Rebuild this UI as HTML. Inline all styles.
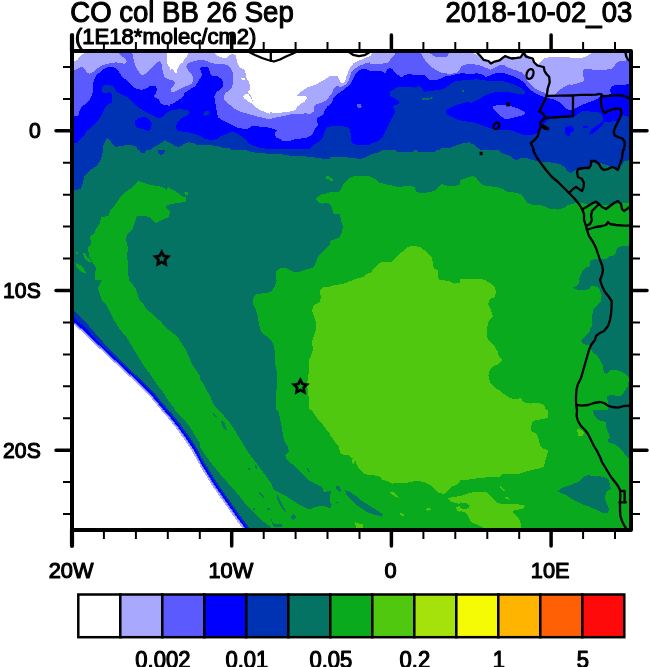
<!DOCTYPE html>
<html lang="en"><head><meta charset="utf-8"><title>CO col BB 26 Sep</title>
<style>html,body{margin:0;padding:0;background:#fff}body{width:650px;height:667px;overflow:hidden}svg{display:block}text{font-family:"Liberation Sans",sans-serif;fill:#000;stroke:#000;stroke-linejoin:round}</style></head><body>
<svg width="650" height="667" viewBox="0 0 650 667">
<rect width="650" height="667" fill="#fff"/>
<defs><clipPath id="c"><rect x="72" y="51" width="559" height="479"/></clipPath></defs>
<g clip-path="url(#c)" shape-rendering="crispEdges">
<path fill="#057364" d="M72 51H631V530H72Z"/>
<clipPath id="t0"><rect x="70" y="50" width="100" height="100"/></clipPath>
<g clip-path="url(#t0)">
<rect x="70" y="50" width="100" height="100" fill="#a8a8ff"/>
<path fill="#ffffff" d="M70.0 50.0L84.6 53.1L81.5 54.6L79.2 56.9L77.7 60.0L73.8 61.1L70.0 61.1Z"/>
<path fill="#ffffff" d="M167.2 50.0L170.0 50.0L170.0 66.9L167.7 65.4L166.9 60.8Z"/>
<path fill="#5a5aff" d="M70.0 70.8L73.8 70.8L76.9 69.2L79.2 67.7L82.3 66.9L84.6 69.2L86.9 72.3L89.2 73.8L91.5 73.1L94.6 70.8L98.5 67.7L102.3 65.4L106.9 63.8L111.5 63.1L116.2 62.3L120.8 63.1L124.6 63.8L126.9 62.0L126.2 59.5L123.8 57.4L120.8 55.4L119.2 53.1L119.2 50.0L132.3 50.0L132.3 53.1L133.1 56.2L133.8 60.8L135.4 65.4L137.7 70.0L140.0 73.8L142.3 75.4L145.4 73.8L148.5 70.8L151.5 67.7L154.6 64.6L157.7 62.0L160.0 61.1L161.5 63.8L162.3 68.5L163.1 73.1L164.6 76.9L166.9 78.5L170.0 80.0L170.0 150.0L70.0 150.0Z"/>
<path fill="#0000ff" d="M70.0 116.2L73.8 116.2L78.5 115.4L79.2 111.5L81.5 106.9L85.4 103.8L89.2 100.8L91.5 96.2L92.8 91.5L93.1 85.4L93.8 80.0L96.9 74.6L100.8 71.5L104.6 68.5L108.5 66.9L113.1 66.9L116.2 68.5L119.2 72.3L122.3 76.9L126.2 80.0L129.2 83.1L132.3 86.2L136.2 88.5L140.8 89.7L145.4 89.2L148.5 86.9L151.5 85.7L155.4 86.2L156.9 89.2L156.2 93.1L153.8 96.2L155.4 97.7L158.5 99.2L160.8 103.1L163.8 105.1L167.7 105.4L170.0 106.2L170.0 150.0L70.0 150.0Z"/>
<path fill="#0032b4" d="M70.0 143.1L73.8 143.1L77.7 142.3L80.8 138.5L84.6 134.6L86.9 130.8L90.8 127.7L94.6 124.6L97.7 120.8L100.8 116.2L103.1 111.5L105.4 106.9L107.7 104.6L111.5 103.1L112.3 97.7L111.5 93.8L109.2 92.3L106.2 92.8L103.1 92.8L101.5 90.3L102.3 86.9L104.6 85.4L109.2 85.1L113.1 86.2L115.4 89.2L116.2 91.5L119.2 93.1L123.8 95.4L128.5 97.7L131.5 100.8L134.6 104.6L139.2 107.7L143.8 110.8L148.5 113.1L153.1 115.4L156.9 117.7L160.8 117.7L165.4 114.6L168.5 111.5L170.0 110.8L170.0 150.0L70.0 150.0Z"/>
<path fill="#0000ff" d="M134.6 120.8L138.5 118.5L142.3 116.9L146.2 117.4L150.0 120.0L151.8 123.8L150.8 128.5L148.5 130.8L145.4 130.0L141.5 128.8L136.9 127.7L135.4 124.6Z"/>
<path fill="#057364" d="M103.1 150.0L103.1 145.4L105.4 140.8L107.7 138.0L110.0 140.8L112.3 143.8L115.4 146.9L120.8 146.2L125.4 145.1L131.5 145.1L136.2 146.2L137.7 149.2L138.5 150.0Z"/>
<path fill="#057364" d="M150.0 150.0L153.1 147.7L157.7 145.4L162.3 142.3L165.4 140.0L168.5 142.3L170.0 143.1L170.0 150.0Z"/>
</g>
<clipPath id="t1"><rect x="170" y="50" width="100" height="100"/></clipPath>
<g clip-path="url(#t1)">
<rect x="170" y="50" width="100" height="100" fill="#a8a8ff"/>
<path fill="#ffffff" d="M170.0 50.0L188.5 50.0L188.5 53.1L186.9 56.9L184.6 59.2L183.1 62.3L180.0 64.6L177.7 67.7L176.9 72.3L175.4 73.1L173.1 69.2L170.0 69.7Z"/>
<path fill="#ffffff" d="M214.6 50.0L214.6 53.1L217.7 55.8L222.3 57.7L226.2 58.0L229.2 55.4L231.5 54.2L235.4 54.6L236.5 59.2L237.7 63.8L240.0 67.7L244.6 69.7L245.7 73.1L245.7 76.9L246.9 79.2L249.2 82.3L250.0 86.9L249.7 90.0L247.7 91.5L250.0 94.6L252.3 97.7L252.8 103.8L254.6 106.2L258.5 109.2L263.8 111.5L270.0 113.8L270.0 50.0Z"/>
<path fill="#ffffff" d="M243.1 96.2L245.4 93.5L248.5 93.8L250.3 96.9L252.3 100.0L253.1 103.8L249.2 102.0L246.2 100.0L243.8 98.0Z"/>
<path fill="#ffffff" d="M241.1 78.5L244.6 77.7L245.1 80.0L242.0 80.5Z"/>
<path fill="#5a5aff" d="M170.0 80.0L173.1 80.5L175.4 83.1L173.1 86.2L170.8 88.5L171.5 92.3L174.6 91.5L179.2 89.2L183.8 86.9L188.5 85.4L192.3 83.1L193.1 77.7L191.5 73.8L188.5 70.8L186.2 66.9L187.7 63.8L191.5 62.0L196.2 60.8L201.5 59.5L206.9 61.1L211.5 63.1L216.2 63.8L222.3 63.5L227.7 65.4L230.8 68.5L232.8 72.3L233.1 77.7L233.4 83.1L231.5 87.7L228.5 90.8L225.4 93.1L223.8 96.2L224.6 100.0L227.7 103.1L231.5 106.2L235.4 109.2L240.0 111.5L245.4 113.1L250.0 114.6L256.2 116.2L262.3 117.7L270.0 119.2L270.0 150.0L170.0 150.0Z"/>
<path fill="#0000ff" d="M170.0 104.6L173.8 103.1L178.5 100.0L183.1 96.9L184.6 93.1L187.7 90.8L191.5 88.5L195.4 86.2L197.7 82.3L200.0 78.5L202.3 75.4L200.8 71.5L200.0 68.5L202.3 66.9L206.9 66.6L209.2 69.2L210.0 73.8L212.3 76.2L217.7 76.5L221.5 79.2L223.5 83.1L223.1 86.9L220.0 90.0L216.2 92.3L214.3 96.2L214.9 100.8L216.2 106.9L216.9 113.1L218.5 117.7L223.1 120.8L228.5 123.1L233.1 125.4L236.9 127.7L242.3 128.5L248.5 128.5L251.5 126.2L256.2 126.2L262.3 126.9L270.0 127.7L270.0 150.0L170.0 150.0Z"/>
<path fill="#0032b4" d="M170.0 110.8L174.6 109.7L180.8 109.2L186.9 110.0L190.0 112.3L187.7 115.4L183.8 116.9L180.0 119.2L176.9 122.3L176.2 126.9L176.9 130.8L182.3 131.5L188.5 132.3L194.6 133.8L200.8 136.2L205.4 139.2L211.5 140.0L217.7 139.2L220.8 136.2L226.9 133.8L233.1 131.5L237.7 133.8L242.3 136.9L246.2 140.0L248.5 143.1L253.1 145.4L259.2 147.7L265.4 148.5L270.0 149.2L270.0 150.0L170.0 150.0Z"/>
<path fill="#0032b4" d="M203.1 114.6L204.6 111.5L208.5 110.8L210.3 112.3L208.5 114.6L205.4 115.8Z"/>
<path fill="#057364" d="M170.0 142.3L174.6 146.2L179.2 146.9L184.6 143.8L188.5 142.3L194.6 143.1L196.9 145.4L205.4 145.1L216.2 145.7L222.3 147.7L230.0 148.5L231.5 150.0L170.0 150.0Z"/>
</g>
<clipPath id="t2"><rect x="270" y="50" width="100" height="100"/></clipPath>
<g clip-path="url(#t2)">
<rect x="270" y="50" width="100" height="100" fill="#ffffff"/>
<path fill="#a8a8ff" d="M270.0 112.3L276.2 113.1L283.8 112.3L290.0 111.5L295.4 110.0L296.9 106.9L300.8 103.8L304.6 101.5L306.9 98.5L306.2 96.2L300.8 96.2L296.2 95.8L299.2 93.1L303.1 90.3L306.9 87.7L310.8 86.2L316.2 84.6L320.8 81.5L325.4 79.2L329.2 76.5L333.8 76.2L337.7 76.5L339.2 79.2L340.8 82.3L343.1 83.1L345.4 80.8L346.2 76.9L347.7 73.1L349.2 69.2L351.5 66.2L353.8 63.1L356.9 61.5L360.8 60.0L364.6 58.0L367.7 56.9L370.0 56.2L370.0 150.0L270.0 150.0Z"/>
<path fill="#5a5aff" d="M270.0 119.2L274.6 117.7L280.8 116.5L286.9 115.4L293.1 113.8L298.5 113.8L305.4 113.4L310.8 113.8L313.8 111.5L313.8 107.7L315.4 104.6L320.8 103.1L325.4 100.8L329.2 96.9L332.3 93.1L333.8 88.5L336.9 86.2L340.8 86.9L345.4 85.1L348.5 80.8L350.0 76.2L351.5 72.3L353.8 69.2L357.7 66.9L362.3 64.6L366.2 63.1L370.0 62.3L370.0 150.0L270.0 150.0Z"/>
<path fill="#0000ff" d="M270.0 127.7L273.8 129.2L276.9 130.0L274.6 133.8L276.2 137.7L280.8 139.2L283.8 141.5L290.0 140.8L295.4 139.2L300.8 138.5L306.9 137.7L311.5 135.4L313.8 131.5L315.4 127.7L318.5 125.4L316.9 120.8L317.7 117.7L323.1 114.6L324.6 110.8L327.7 106.2L331.5 103.1L333.8 97.7L337.7 93.8L342.3 90.8L346.2 87.7L350.0 84.6L352.3 80.0L354.6 75.4L357.7 71.5L361.5 69.2L366.2 69.2L370.0 70.8L370.0 150.0L270.0 150.0Z"/>
<path fill="#0032b4" d="M270.0 149.2L279.2 148.5L290.0 148.5L300.8 149.2L310.0 148.5L313.8 144.6L319.2 141.5L323.1 136.9L324.6 131.5L326.9 127.7L330.8 126.2L336.2 126.2L341.5 126.2L346.9 126.9L350.0 130.0L350.8 134.6L350.8 140.0L353.1 143.8L359.2 145.1L365.4 145.4L370.0 145.1L370.0 150.0L270.0 150.0Z"/>
<path fill="#5a5aff" d="M356.9 104.6L360.0 103.8L361.8 106.2L360.0 108.5L357.7 107.7Z"/>
</g>
<clipPath id="t3"><rect x="370" y="50" width="100" height="100"/></clipPath>
<g clip-path="url(#t3)">
<rect x="370" y="50" width="100" height="100" fill="#5a5aff"/>
<path fill="#a8a8ff" d="M370.0 50.0L395.4 50.0L395.4 53.1L393.1 56.9L390.0 60.0L387.7 63.1L379.2 63.8L370.0 63.5Z"/>
<path fill="#ffffff" d="M370.0 50.0L371.8 53.1L370.8 56.2L370.0 56.9Z"/>
<path fill="#a8a8ff" d="M420.8 50.0L420.8 53.1L423.1 57.7L426.9 62.3L431.5 66.9L436.2 70.0L442.3 73.1L450.0 73.8L456.2 73.1L460.0 70.0L460.8 66.2L465.4 64.6L470.0 63.8L470.0 50.0L449.2 50.0L449.2 53.1L446.9 56.5L440.8 56.9L434.6 56.5L430.8 53.8L429.2 53.1L429.2 50.0Z"/>
<path fill="#0000ff" d="M370.0 70.8L380.8 71.2L385.4 73.1L386.9 70.0L390.0 67.2L393.1 70.0L395.4 73.1L398.5 75.4L401.5 77.4L404.6 74.9L407.7 74.3L414.6 74.6L420.8 74.6L424.6 75.4L427.7 78.5L430.8 80.5L436.2 80.0L440.8 78.5L445.4 76.5L451.5 75.4L457.7 73.8L462.3 73.1L466.9 73.8L470.0 73.8L470.0 150.0L370.0 150.0Z"/>
<path fill="#0032b4" d="M370.0 143.8L374.6 142.3L379.2 140.8L383.1 136.2L385.4 131.5L387.7 126.9L389.2 123.1L391.5 119.2L393.8 114.6L395.4 111.5L393.1 107.7L393.8 105.4L399.2 103.8L398.5 100.8L393.1 97.7L390.0 96.2L390.0 91.5L393.1 90.0L397.7 86.9L403.8 86.6L410.0 86.9L414.6 87.7L419.2 86.2L422.3 89.2L424.6 91.8L430.0 90.8L436.2 90.3L442.3 89.2L446.9 86.9L450.8 83.8L454.6 81.5L460.8 80.5L466.9 80.0L470.0 79.5L470.0 101.5L466.2 102.3L460.8 103.8L456.2 105.1L450.8 107.7L446.2 110.0L445.4 113.1L448.5 115.4L453.1 117.7L456.2 119.2L462.3 120.8L470.0 122.0L470.0 150.0L370.0 150.0Z"/>
<path fill="#057364" d="M422.3 98.5L430.8 97.7L432.8 96.9L432.3 98.9L426.9 100.0L422.3 100.0Z"/>
<path fill="#057364" d="M462.0 90.0L464.2 90.0L464.2 92.0L462.0 92.0Z"/>
<path fill="#057364" d="M440.0 150.0L440.8 148.5L450.0 147.7L456.2 145.4L463.8 143.1L470.0 142.3L470.0 150.0Z"/>
</g>
<clipPath id="t4"><rect x="470" y="50" width="100" height="100"/></clipPath>
<g clip-path="url(#t4)">
<rect x="470" y="50" width="100" height="100" fill="#a8a8ff"/>
<path fill="#ffffff" d="M473.1 50.0L473.1 53.1L477.7 55.4L483.8 59.2L490.0 63.1L496.2 60.8L502.3 57.7L504.6 55.4L510.0 56.9L516.2 57.4L522.3 56.2L523.8 53.1L523.8 50.0Z"/>
<path fill="#ffffff" d="M526.2 50.0L526.2 53.1L528.5 56.9L531.5 59.2L534.6 62.3L538.5 64.6L540.8 61.5L543.8 58.5L550.0 56.9L556.2 56.9L562.3 56.9L570.0 56.9L570.0 50.0Z"/>
<path fill="#5a5aff" d="M470.0 63.8L476.2 64.6L482.3 66.2L486.9 68.2L490.8 69.7L494.6 67.7L499.2 65.4L503.1 64.6L506.9 66.9L512.3 69.2L517.7 70.8L523.1 73.1L525.4 76.9L527.7 81.5L531.5 85.4L535.4 88.5L539.2 90.8L543.8 92.3L546.9 93.8L550.0 95.4L553.8 95.4L556.9 92.3L560.8 89.2L565.4 86.2L570.0 84.2L570.0 150.0L470.0 150.0Z"/>
<path fill="#0000ff" d="M470.0 74.6L476.2 73.1L482.3 74.6L485.4 76.9L490.0 75.4L496.2 73.1L502.3 72.8L508.5 74.6L514.6 76.9L519.2 79.2L523.8 82.3L526.9 86.2L530.0 89.7L534.6 92.8L539.2 95.4L543.8 96.9L546.9 98.0L553.1 99.2L556.2 100.8L560.8 103.1L563.8 106.2L566.9 109.2L570.0 110.0L570.0 150.0L470.0 150.0Z"/>
<path fill="#0032b4" d="M470.0 80.0L476.2 79.2L482.3 80.0L488.5 80.8L496.2 80.5L503.8 81.5L510.0 83.1L516.2 85.4L520.8 87.7L524.6 90.8L525.4 93.8L522.3 94.6L517.7 93.8L513.1 92.8L506.9 91.8L500.8 91.8L494.6 92.3L488.5 93.8L483.8 96.2L479.2 98.9L474.6 101.5L470.0 103.1Z"/>
<path fill="#5a5aff" d="M493.1 106.2L497.7 105.1L505.4 105.4L511.5 106.2L517.7 108.5L523.1 110.8L525.7 113.1L522.3 115.4L516.2 116.9L510.0 118.5L503.8 118.5L500.0 115.4L496.2 111.5L493.4 108.5Z"/>
<path fill="#0032b4" d="M470.0 121.5L476.2 123.1L482.3 125.4L488.5 127.7L493.1 129.2L500.8 130.0L508.5 130.0L514.6 131.5L520.8 133.8L526.9 135.4L533.1 134.6L537.7 133.1L540.8 130.0L543.1 126.2L544.6 123.1L546.9 120.8L551.5 118.5L556.2 117.7L562.3 117.7L570.0 117.7L570.0 150.0L470.0 150.0Z"/>
<path fill="#0000ff" d="M565.4 126.9L570.0 125.4L570.0 136.2L566.2 135.4L564.6 131.5Z"/>
<path fill="#057364" d="M470.0 143.1L473.8 144.6L477.7 147.7L480.8 150.0L470.0 150.0Z"/>
</g>
<clipPath id="t5"><rect x="570" y="50" width="80" height="100"/></clipPath>
<g clip-path="url(#t5)">
<rect x="570" y="50" width="80" height="100" fill="#a8a8ff"/>
<path fill="#ffffff" d="M550.0 50.0L591.5 50.0L591.5 53.1L586.9 56.2L580.8 58.5L550.0 56.9Z"/>
<path fill="#5a5aff" d="M550.0 94.6L554.6 92.3L559.2 89.7L565.4 86.9L570.0 85.4L576.2 83.8L580.8 82.3L584.6 80.8L583.1 76.2L582.6 70.8L584.6 69.2L590.0 69.2L596.2 70.0L603.8 69.7L611.5 69.2L614.6 66.2L616.2 63.1L619.2 61.5L623.8 60.8L628.5 60.0L633.1 59.2L633.1 150.0L550.0 150.0Z"/>
<path fill="#0000ff" d="M550.0 102.3L556.2 103.8L562.3 106.9L565.4 110.8L571.5 110.0L576.2 107.7L580.8 105.4L586.9 103.1L593.1 100.8L597.7 98.5L600.8 96.2L606.9 95.4L610.8 93.8L610.0 90.0L611.5 86.9L614.6 85.1L619.2 84.6L623.8 84.6L633.1 84.2L633.1 150.0L550.0 150.0Z"/>
<path fill="#0032b4" d="M550.0 117.7L559.2 118.9L570.0 117.7L574.6 116.2L579.2 113.1L583.1 110.8L590.0 111.5L596.2 111.5L600.8 113.4L603.1 117.7L602.3 121.5L605.4 122.3L611.5 121.5L616.2 120.8L620.0 117.7L623.1 115.4L626.9 116.2L633.1 117.7L633.1 150.0L550.0 150.0Z"/>
<path fill="#0000ff" d="M565.4 126.9L569.2 125.4L573.1 126.9L574.6 130.0L571.5 132.3L569.2 134.6L566.2 133.8L565.1 130.0Z"/>
<path fill="#0000ff" d="M583.1 126.2L586.9 125.4L588.5 126.9L586.2 128.5L583.5 128.2Z"/>
<path fill="#0000ff" d="M589.2 134.6L590.8 130.0L594.6 126.9L599.2 123.8L602.3 121.5L603.8 123.5L600.8 126.9L596.2 130.8L593.1 133.8Z"/>
</g>
<clipPath id="t6"><rect x="70" y="150" width="130" height="130"/></clipPath>
<g clip-path="url(#t6)">
<rect x="70" y="150" width="130" height="130" fill="#057364"/>
<path fill="#0032b4" d="M70.0 150.0L103.0 150.0L102.0 156.0L100.0 161.0L97.0 166.0L92.0 169.0L87.0 173.0L84.0 177.0L83.0 183.0L81.0 189.0L74.0 190.0L70.0 190.0Z"/>
<path fill="#0032b4" d="M140.0 150.0L146.0 150.0L145.0 153.0L141.0 153.0Z"/>
<path fill="#0032b4" d="M158.0 150.0L165.0 150.0L164.0 154.0L160.0 155.0L158.0 153.0Z"/>
<path fill="#0aaa1e" d="M138.0 181.0L135.0 184.0L130.0 189.0L124.0 193.0L119.0 199.0L115.0 205.0L110.0 210.0L109.0 216.0L101.0 217.0L100.0 223.0L96.0 229.0L94.0 234.0L90.0 236.0L91.0 244.0L88.0 248.0L89.0 256.0L92.0 261.0L96.0 268.0L95.0 274.0L95.0 280.0L129.0 280.0L128.0 272.0L128.0 264.0L127.0 256.0L128.0 248.0L126.0 240.0L127.0 234.0L132.0 230.0L134.0 225.0L136.0 219.0L137.0 216.0L144.0 216.0L149.0 217.0L152.0 220.0L156.0 223.0L160.0 221.0L164.0 219.0L169.0 217.0L170.0 212.0L168.0 209.0L165.0 207.0L168.0 205.0L174.0 203.6L182.0 202.4L186.0 201.6L186.0 197.6L182.0 196.0L179.0 193.6L175.0 191.0L171.0 189.0L168.0 187.0L167.0 190.0L164.0 188.0L158.0 186.0L150.0 185.0L144.0 183.0Z"/>
<path fill="#0aaa1e" d="M184.0 192.0L188.0 192.4L187.6 195.0L185.0 194.4Z"/>
<path fill="#0aaa1e" d="M76.0 263.0L80.0 265.0L84.0 269.0L86.0 273.0L82.0 272.4L78.0 269.0L75.6 266.0Z"/>
<path fill="#0aaa1e" d="M83.0 253.0L86.0 254.0L87.0 258.0L90.0 259.0L92.0 262.0L88.0 262.0L84.4 258.0Z"/>
<path fill="#0aaa1e" d="M75.6 251.6L78.0 251.6L78.0 253.6L75.6 253.6Z"/>
</g>
<clipPath id="t7"><rect x="200" y="150" width="130" height="130"/></clipPath>
<g clip-path="url(#t7)">
<rect x="200" y="150" width="130" height="130" fill="#057364"/>
<path fill="#0032b4" d="M245.0 150.0L330.0 150.0L330.0 159.0L320.0 158.4L312.0 157.0L300.0 156.0L290.0 155.6L280.0 154.0L268.0 153.6L258.0 153.0L250.0 151.6Z"/>
<path fill="#0aaa1e" d="M315.0 199.0L319.0 196.0L322.0 193.6L326.0 193.6L330.0 192.0L330.0 203.6L326.0 203.0L322.0 203.6L319.0 202.4L317.0 200.4Z"/>
<path fill="#0aaa1e" d="M326.0 176.0L329.0 176.0L330.0 178.0L330.0 181.0L328.0 179.0L326.0 178.4Z"/>
<path fill="#0aaa1e" d="M276.0 280.0L276.0 271.0L280.0 268.4L285.0 267.6L290.0 270.0L294.0 272.4L298.0 272.0L304.0 270.0L310.0 268.4L314.0 267.0L316.0 262.0L318.0 257.0L321.0 253.0L325.0 250.0L328.0 246.0L330.0 245.0L330.0 280.0Z"/>
</g>
<clipPath id="t8"><rect x="330" y="150" width="130" height="130"/></clipPath>
<g clip-path="url(#t8)">
<rect x="330" y="150" width="130" height="130" fill="#057364"/>
<path fill="#0032b4" d="M330.0 150.0L383.0 150.0L378.0 152.4L372.0 154.0L366.0 157.0L360.0 159.0L354.0 158.0L342.0 157.0L330.0 157.0Z"/>
<path fill="#0032b4" d="M396.0 150.0L414.0 150.0L413.0 151.6L397.0 151.6Z"/>
<path fill="#0032b4" d="M417.0 150.0L436.0 150.0L435.0 151.6L418.0 151.6Z"/>
<path fill="#0aaa1e" d="M330.0 192.0L336.0 192.4L340.0 191.0L342.0 187.0L345.0 182.0L348.0 179.0L354.0 176.0L362.0 176.0L370.0 176.4L375.0 179.0L379.0 182.4L386.0 184.4L394.0 186.0L400.0 187.6L405.0 186.0L410.0 186.0L415.0 187.0L416.0 192.0L422.0 193.0L428.0 192.4L434.0 191.0L438.0 187.0L441.0 184.0L446.0 185.6L454.0 186.0L460.0 185.0L460.0 280.0L330.0 280.0L330.0 241.0L334.0 239.6L339.0 238.0L342.0 232.0L343.0 226.0L341.0 220.0L340.0 214.0L334.0 214.0L332.0 208.0L330.0 204.0Z"/>
<path fill="#0aaa1e" d="M330.0 178.0L333.0 179.0L332.4 181.0L330.0 181.0Z"/>
<path fill="#50c80f" d="M353.0 280.0L358.0 278.0L364.0 277.0L366.0 274.0L372.0 272.0L373.0 269.0L378.0 264.0L382.0 262.0L392.0 261.6L395.0 258.0L399.0 254.0L404.0 251.0L407.0 247.0L413.0 246.0L420.0 247.0L424.0 250.0L428.0 253.0L432.0 258.0L433.0 264.0L434.0 269.0L438.0 270.0L438.0 276.0L439.0 280.0Z"/>
</g>
<clipPath id="t9"><rect x="460" y="150" width="130" height="130"/></clipPath>
<g clip-path="url(#t9)">
<rect x="460" y="150" width="130" height="130" fill="#057364"/>
<path fill="#0032b4" d="M498.0 150.0L590.0 150.0L590.0 168.0L584.0 169.0L576.0 170.0L571.0 173.0L567.0 171.0L565.0 167.0L560.0 164.0L554.0 163.0L548.0 162.0L540.0 161.6L532.0 160.0L526.0 158.0L522.0 157.6L517.0 160.0L513.0 159.0L510.0 156.0L504.0 154.0L500.0 152.0Z"/>
<path fill="#0aaa1e" d="M460.0 180.0L466.0 178.0L472.0 176.0L476.0 177.0L479.0 182.0L482.0 185.0L488.0 186.0L496.0 187.0L503.0 189.0L508.0 192.0L514.0 192.4L520.0 194.0L524.0 198.0L527.0 202.4L530.0 204.4L540.0 205.0L546.0 207.0L550.0 209.0L558.0 209.6L564.0 208.0L568.0 205.0L574.0 203.6L580.0 202.4L586.0 204.0L590.0 204.4L590.0 266.0L585.0 268.0L582.0 272.0L580.0 276.0L579.0 280.0L460.0 280.0Z"/>
<path fill="#50c80f" d="M460.0 279.0L482.0 279.0L483.0 280.0L460.0 280.0Z"/>
</g>
<clipPath id="t10"><rect x="590" y="150" width="60" height="130"/></clipPath>
<g clip-path="url(#t10)">
<rect x="590" y="150" width="60" height="130" fill="#057364"/>
<path fill="#0032b4" d="M520.0 150.0L632.0 150.0L632.0 160.0L624.0 161.0L622.0 165.0L618.0 168.0L612.0 167.0L606.0 165.0L600.0 163.0L595.0 162.0L591.0 164.0L588.0 167.0L582.0 168.0L577.0 169.0L574.0 172.0L569.0 173.6L566.0 171.0L565.0 167.0L560.0 164.0L552.0 163.0L544.0 162.0L536.0 161.0L528.0 159.0L520.0 157.0Z"/>
<path fill="#0aaa1e" d="M520.0 193.0L524.0 198.0L528.0 203.0L536.0 204.0L544.0 206.0L550.0 209.0L558.0 209.6L564.0 208.0L568.0 205.0L574.0 203.6L580.0 202.4L588.0 204.0L596.0 204.4L604.0 205.0L612.0 204.4L620.0 203.6L628.0 203.0L632.0 203.0L632.0 246.0L624.0 246.0L618.0 247.0L616.0 251.0L615.0 255.0L610.0 256.0L606.0 259.0L600.0 259.6L594.0 259.0L590.0 261.0L587.0 266.0L584.0 270.0L581.0 273.0L579.0 278.0L579.0 280.0L520.0 280.0Z"/>
</g>
<clipPath id="t11"><rect x="70" y="280" width="130" height="130"/></clipPath>
<g clip-path="url(#t11)">
<rect x="70" y="280" width="130" height="130" fill="#057364"/>
<path fill="#0aaa1e" d="M95.0 280.0L102.0 280.0L100.0 284.0L98.0 288.0L100.0 294.0L102.0 300.0L107.0 306.0L110.0 312.0L113.0 318.0L117.0 325.0L122.0 332.0L127.0 338.0L132.0 346.0L138.0 356.0L144.0 366.0L150.0 374.0L156.0 383.0L163.0 392.0L168.0 400.0L174.0 408.0L175.0 410.0L200.0 410.0L200.0 376.0L196.0 370.0L192.0 364.0L189.0 357.0L186.0 350.0L182.0 344.0L179.0 339.0L174.0 334.0L169.0 330.0L164.0 326.0L161.0 321.0L156.0 318.0L152.0 313.0L147.0 310.0L144.0 305.0L140.0 301.0L138.0 295.0L136.0 289.0L133.0 285.0L129.0 280.0Z"/>
<path fill="#0032b4" d="M69.6 306.7L81.3 318.0L88.5 325.4L95.8 333.9L105.0 344.2L114.5 354.1L124.2 363.6L134.0 373.1L144.0 382.5L154.0 392.5L161.4 401.7L165.2 406.0L173.2 416.0L60.0 430.0Z"/>
<path fill="#0000ff" d="M65.9 310.3L77.9 321.3L85.6 328.1L93.2 336.4L102.9 346.2L112.9 355.6L122.9 364.8L132.9 374.2L142.9 383.6L152.9 393.6L160.3 402.8L164.0 407.1L172.0 417.1L60.0 430.0Z"/>
<path fill="#5a5aff" d="M63.6 312.5L75.6 323.5L83.6 330.1L91.6 337.9L101.6 347.5L111.6 356.9L121.6 366.1L131.6 375.5L141.6 384.9L151.6 394.9L159.0 404.1L162.6 408.5L170.6 418.5L60.0 430.0Z"/>
<path fill="#a8a8ff" d="M63.0 313.0L75.0 324.0L83.0 330.6L91.0 338.4L101.0 348.0L111.0 357.4L121.0 366.6L131.0 376.0L141.0 385.4L151.0 395.4L158.4 404.6L162.0 409.0L170.0 419.0L60.0 430.0Z"/>
<path fill="#ffffff" d="M62.0 314.0L74.0 325.0L82.0 331.6L90.0 339.4L100.0 349.0L110.0 358.4L120.0 367.6L130.0 377.0L140.0 386.4L150.0 396.4L157.4 405.6L161.0 410.0L169.0 420.0L60.0 430.0Z"/>
</g>
<clipPath id="t12"><rect x="200" y="280" width="130" height="130"/></clipPath>
<g clip-path="url(#t12)">
<rect x="200" y="280" width="130" height="130" fill="#057364"/>
<path fill="#0aaa1e" d="M277.0 280.0L275.0 286.0L272.0 291.0L266.0 293.0L256.0 294.0L253.0 299.0L253.0 304.0L256.0 310.0L258.0 317.0L259.0 324.0L261.0 332.0L266.0 336.0L271.0 340.0L274.0 346.0L275.0 354.0L275.0 364.0L277.0 372.0L277.0 384.0L276.0 396.0L276.0 410.0L330.0 410.0L330.0 280.0Z"/>
<path fill="#0aaa1e" d="M200.0 380.0L203.0 383.0L206.0 389.0L210.0 396.0L213.0 403.0L216.0 408.0L218.0 410.0L200.0 410.0Z"/>
<path fill="#50c80f" d="M330.0 287.0L322.0 287.6L319.6 292.0L321.0 297.0L320.0 302.0L314.0 305.0L312.0 310.0L314.0 316.0L316.0 323.0L316.0 330.0L314.0 336.0L312.0 342.0L313.0 350.0L311.0 356.0L309.0 360.0L309.0 370.0L308.0 378.0L307.0 384.0L308.0 392.0L309.0 400.0L309.6 410.0L330.0 410.0Z"/>
</g>
<clipPath id="t13"><rect x="330" y="280" width="130" height="130"/></clipPath>
<g clip-path="url(#t13)">
<rect x="330" y="280" width="130" height="130" fill="#50c80f"/>
<path fill="#0aaa1e" d="M330.0 280.0L353.0 280.0L348.0 282.0L342.0 284.0L330.0 286.0Z"/>
<path fill="#0aaa1e" d="M443.0 280.0L460.0 280.0L460.0 283.0L454.0 283.6L450.0 281.6Z"/>
</g>
<clipPath id="t14"><rect x="460" y="280" width="130" height="130"/></clipPath>
<g clip-path="url(#t14)">
<rect x="460" y="280" width="130" height="130" fill="#0aaa1e"/>
<path fill="#50c80f" d="M460.0 280.0L485.0 280.0L490.0 283.0L495.0 287.0L496.0 292.0L495.0 297.0L490.0 299.0L488.0 304.0L491.0 310.0L493.0 316.0L489.0 320.0L487.0 328.0L487.0 337.0L490.0 342.0L495.0 347.0L498.0 352.0L499.0 357.0L502.0 360.0L499.0 364.0L494.0 366.0L490.0 369.0L488.4 376.0L490.0 382.0L494.0 387.0L499.0 390.0L504.0 394.0L510.0 398.0L516.0 399.6L521.0 398.0L523.0 402.0L530.0 403.6L538.0 403.0L544.0 405.0L546.0 410.0L460.0 410.0Z"/>
<path fill="#057364" d="M580.0 280.0L590.0 280.0L590.0 289.0L584.0 290.0L578.0 290.0L572.0 288.0L576.0 286.0L579.0 283.0Z"/>
<path fill="#057364" d="M590.0 331.0L586.0 336.0L581.0 340.0L583.0 344.0L588.0 345.6L590.0 344.0Z"/>
</g>
<clipPath id="t15"><rect x="590" y="280" width="60" height="130"/></clipPath>
<g clip-path="url(#t15)">
<rect x="590" y="280" width="60" height="130" fill="#0aaa1e"/>
<path fill="#057364" d="M579.0 280.0L632.0 280.0L632.0 410.0L608.0 410.0L608.0 403.0L607.0 396.0L610.0 395.0L620.0 396.0L624.0 392.0L628.0 386.0L629.0 378.0L624.0 373.0L618.0 370.4L610.0 370.0L607.0 374.0L604.0 373.0L603.0 366.0L600.0 360.0L597.0 355.0L593.0 353.0L590.0 347.0L587.0 345.0L582.0 344.0L581.0 339.0L585.0 335.0L589.0 330.0L592.0 326.0L592.0 318.0L593.0 310.0L597.0 305.0L601.0 301.0L601.6 295.0L599.0 288.0L594.0 286.0L588.0 287.0L580.0 289.0L572.0 288.0L577.0 286.0L579.0 283.0Z"/>
</g>
<clipPath id="t16"><rect x="70" y="410" width="130" height="130"/></clipPath>
<g clip-path="url(#t16)">
<rect x="70" y="410" width="130" height="130" fill="#ffffff"/>
<path fill="#057364" d="M60.0 400.0L210.0 400.0L210.0 550.0Z"/>
<path fill="#0aaa1e" d="M168.0 404.0L174.0 410.0L182.0 417.0L190.0 427.0L196.0 437.0L200.0 443.0L210.0 458.0L210.0 400.0Z"/>
<path fill="#0032b4" d="M160.2 400.0L165.2 406.0L172.2 414.0L180.2 424.0L188.2 435.0L196.2 447.0L202.2 458.0L204.2 461.0L210.2 470.0L210.0 550.0L60.0 550.0L60.0 400.0Z"/>
<path fill="#0000ff" d="M159.0 401.1L164.0 407.1L171.0 415.1L179.0 425.1L187.0 436.1L195.0 448.1L201.0 459.1L203.0 462.1L209.0 471.1L210.0 550.0L60.0 550.0L60.0 400.0Z"/>
<path fill="#5a5aff" d="M157.7 402.3L162.7 408.3L169.7 416.3L177.7 426.3L185.7 437.3L193.7 449.3L199.7 460.3L201.7 463.3L207.7 472.3L210.0 550.0L60.0 550.0L60.0 400.0Z"/>
<path fill="#a8a8ff" d="M157.2 402.9L162.2 408.9L169.2 416.9L177.2 426.9L185.2 437.9L193.2 449.9L199.2 460.9L201.2 463.9L207.2 472.9L210.0 550.0L60.0 550.0L60.0 400.0Z"/>
<path fill="#ffffff" d="M156.0 404.0L161.0 410.0L168.0 418.0L176.0 428.0L184.0 439.0L192.0 451.0L198.0 462.0L200.0 465.0L206.0 474.0L210.0 550.0L60.0 550.0L60.0 400.0Z"/>
</g>
<clipPath id="t17"><rect x="200" y="410" width="130" height="130"/></clipPath>
<g clip-path="url(#t17)">
<rect x="200" y="410" width="130" height="130" fill="#0aaa1e"/>
<path fill="#057364" d="M219.0 410.0L278.0 410.0L280.0 418.0L282.0 428.0L283.0 436.0L285.0 442.0L288.0 447.0L289.0 452.0L285.0 455.0L287.0 460.0L292.0 464.0L298.0 470.0L304.0 476.0L310.0 481.0L316.0 484.0L322.0 487.0L324.0 492.0L330.0 491.0L330.0 508.0L322.0 505.6L314.0 507.6L309.0 509.6L304.0 507.0L298.0 504.0L292.0 500.0L286.0 496.0L280.0 493.0L274.0 490.0L271.0 483.0L266.0 476.0L260.0 468.0L254.0 460.0L248.0 452.0L242.0 442.0L236.0 432.0L230.0 423.0L224.0 416.0Z"/>
<path fill="#057364" d="M221.0 421.0L224.0 422.0L227.0 430.0L225.0 430.0L222.0 425.0Z"/>
<path fill="#057364" d="M213.0 413.0L218.0 417.0L216.0 417.6L212.4 414.4Z"/>
<path fill="#057364" d="M248.0 468.0L250.0 468.0L250.0 470.4L248.0 470.4Z"/>
<path fill="#057364" d="M255.0 465.0L257.0 466.0L256.6 469.0L255.0 468.0Z"/>
<path fill="#057364" d="M259.0 492.0L264.0 496.0L263.6 497.6L259.4 494.0Z"/>
<path fill="#057364" d="M277.0 494.0L279.0 498.0L282.0 504.0L285.0 509.0L286.0 512.0L284.0 511.0L280.0 505.0L277.0 499.0Z"/>
<path fill="#057364" d="M267.0 508.0L270.0 507.6L270.4 510.0L267.6 510.6Z"/>
<path fill="#057364" d="M253.0 508.0L255.0 508.0L255.0 510.0L253.0 510.0Z"/>
<path fill="#057364" d="M291.0 516.0L294.0 514.0L296.0 517.0L294.0 520.0L291.6 519.0Z"/>
<path fill="#057364" d="M271.0 517.0L272.4 522.0L274.4 524.0L282.0 523.6L282.4 527.0L274.0 527.0L271.6 522.0Z"/>
<path fill="#057364" d="M309.0 495.0L313.0 494.0L314.0 497.0L311.0 498.4L309.0 497.0Z"/>
<path fill="#057364" d="M305.0 484.0L308.0 483.0L309.0 486.0L306.0 487.0Z"/>
<path fill="#057364" d="M288.0 473.0L290.4 473.0L290.4 475.6L288.0 475.6Z"/>
<path fill="#057364" d="M307.0 468.0L309.0 469.0L310.0 472.4L308.0 471.6Z"/>
<path fill="#50c80f" d="M312.0 410.0L315.0 415.0L319.0 421.0L323.0 425.0L326.0 429.0L329.0 433.0L330.0 434.0L330.0 410.0Z"/>
<path fill="#057364" d="M194.0 438.0L200.0 447.0L206.0 456.0L212.0 464.0L220.0 474.0L228.0 483.0L236.0 492.0L244.0 502.0L252.0 511.0L260.0 519.0L268.0 525.0L272.0 528.0L280.0 540.0L190.0 550.0Z"/>
<path fill="#0032b4" d="M197.0 450.6L203.4 460.8L210.2 471.6L216.6 482.0L224.2 492.8L231.8 503.6L239.8 515.0L246.6 524.0L255.2 536.0L190.0 550.0Z"/>
<path fill="#0000ff" d="M195.8 451.7L202.2 461.9L209.0 472.7L215.4 483.1L223.0 493.9L230.6 504.7L238.6 516.1L245.4 525.1L254.0 537.1L190.0 550.0Z"/>
<path fill="#5a5aff" d="M194.5 452.9L200.9 463.1L207.7 473.9L214.1 484.3L221.7 495.1L229.3 505.9L237.3 517.3L244.1 526.3L252.7 538.3L190.0 550.0Z"/>
<path fill="#a8a8ff" d="M194.0 453.5L200.4 463.7L207.2 474.5L213.6 484.9L221.2 495.7L228.8 506.5L236.8 517.9L243.6 526.9L252.2 538.9L190.0 550.0Z"/>
<path fill="#ffffff" d="M192.8 454.6L199.2 464.8L206.0 475.6L212.4 486.0L220.0 496.8L227.6 507.6L235.6 519.0L242.4 528.0L251.0 540.0L190.0 550.0Z"/>
</g>
<clipPath id="t18"><rect x="330" y="410" width="130" height="130"/></clipPath>
<g clip-path="url(#t18)">
<rect x="330" y="410" width="130" height="130" fill="#0aaa1e"/>
<path fill="#50c80f" d="M330.0 410.0L460.0 410.0L460.0 481.0L456.0 485.0L451.0 487.0L448.0 490.0L444.0 494.0L439.0 493.0L434.0 489.0L430.0 485.0L424.0 482.0L418.0 481.0L412.0 481.6L406.0 483.0L398.0 483.0L392.0 483.6L387.0 481.0L382.0 480.0L381.0 477.0L376.0 475.6L370.0 475.0L364.0 474.0L360.0 470.0L357.0 465.0L355.0 460.0L352.0 458.0L348.0 455.0L344.0 455.0L340.0 453.0L339.0 447.0L335.0 442.0L332.0 437.0L330.0 436.0Z"/>
<path fill="#50c80f" d="M352.0 459.0L355.0 460.0L354.0 464.0L351.6 462.4Z"/>
<path fill="#50c80f" d="M360.0 462.4L363.0 463.0L363.0 465.0L360.0 464.4Z"/>
<path fill="#50c80f" d="M390.0 492.0L394.0 492.4L398.0 496.0L399.0 498.0L395.0 496.4L391.0 494.0Z"/>
<path fill="#50c80f" d="M448.0 498.0L454.0 497.0L460.0 496.0L460.0 504.0L455.0 503.0L450.0 501.0Z"/>
<path fill="#50c80f" d="M456.0 507.0L460.0 506.0L460.0 512.0L457.0 511.0Z"/>
<path fill="#50c80f" d="M426.0 509.0L430.0 507.6L431.0 509.6L427.0 511.0Z"/>
<path fill="#50c80f" d="M400.0 513.0L404.0 514.0L404.4 516.0L400.4 515.0Z"/>
<path fill="#50c80f" d="M355.0 522.0L359.0 523.6L363.0 524.4L363.0 528.0L356.0 528.0Z"/>
<path fill="#057364" d="M345.0 490.0L350.0 492.0L356.0 496.0L362.0 501.0L370.0 506.0L378.0 511.0L383.0 514.0L382.0 517.0L376.0 515.0L369.0 513.0L364.0 510.0L358.0 506.0L353.0 502.0L349.0 498.0L346.0 494.0Z"/>
<path fill="#057364" d="M336.0 486.0L339.0 486.4L341.0 490.0L339.0 492.0L336.4 489.0Z"/>
<path fill="#057364" d="M330.0 491.0L331.0 492.0L331.0 494.0L330.0 494.0Z"/>
<path fill="#057364" d="M330.0 503.0L331.6 504.0L331.0 508.0L330.0 508.0Z"/>
<path fill="#057364" d="M335.6 501.6L338.0 501.6L338.0 503.0L335.6 503.0Z"/>
</g>
<clipPath id="t19"><rect x="460" y="410" width="130" height="130"/></clipPath>
<g clip-path="url(#t19)">
<rect x="460" y="410" width="130" height="130" fill="#0aaa1e"/>
<path fill="#50c80f" d="M460.0 410.0L548.0 410.0L548.0 418.0L540.0 419.6L533.0 421.0L531.0 426.0L531.0 431.0L537.0 434.0L539.0 440.0L540.0 446.0L543.0 449.0L548.0 450.0L547.0 456.0L545.0 462.0L544.0 467.0L537.0 469.0L530.0 470.4L524.0 472.0L518.0 474.0L510.0 473.6L503.0 474.0L499.0 477.0L490.0 477.0L480.0 478.0L472.0 479.0L466.0 480.0L460.0 479.6Z"/>
<path fill="#50c80f" d="M460.0 496.0L466.0 494.0L472.0 492.4L480.0 492.0L487.0 492.4L490.0 495.0L493.0 499.0L497.0 503.0L502.0 504.0L510.0 503.6L518.0 504.4L526.0 506.0L522.0 509.0L516.0 510.0L512.4 511.0L515.0 515.0L519.0 519.0L521.0 524.0L521.0 528.0L484.0 528.0L478.0 525.0L471.0 522.0L468.0 516.0L464.0 512.0L460.0 511.0Z"/>
<path fill="#0aaa1e" d="M460.0 502.4L466.0 503.0L470.0 505.6L468.0 508.4L463.0 509.0L460.0 508.0Z"/>
<path fill="#50c80f" d="M500.0 486.0L502.0 487.0L505.0 491.0L503.0 491.0L500.6 488.4Z"/>
<path fill="#50c80f" d="M505.0 497.0L508.0 497.6L510.0 499.6L507.0 499.4Z"/>
<path fill="#50c80f" d="M577.0 429.0L582.0 430.0L584.0 433.0L583.0 436.0L578.0 435.6Z"/>
<path fill="#057364" d="M557.0 491.0L564.0 487.0L572.0 484.4L578.0 482.0L582.0 478.0L586.0 475.6L590.0 475.0L590.0 507.0L584.0 505.0L578.0 502.0L572.0 499.0L566.0 495.0L561.0 493.0Z"/>
</g>
<clipPath id="t20"><rect x="590" y="410" width="60" height="130"/></clipPath>
<g clip-path="url(#t20)">
<rect x="590" y="410" width="60" height="130" fill="#0aaa1e"/>
<path fill="#057364" d="M593.0 410.0L632.0 410.0L632.0 458.0L628.0 457.6L624.0 453.0L620.0 449.0L617.0 446.0L614.0 444.0L609.0 443.0L608.0 440.0L610.0 437.0L608.0 432.0L606.0 427.0L606.0 422.0L602.0 421.0L598.0 420.0L595.0 417.0L593.6 413.0Z"/>
<path fill="#057364" d="M557.0 491.0L564.0 487.0L572.0 484.4L578.0 482.0L582.0 478.0L586.0 475.6L596.0 475.6L604.0 477.0L608.0 479.0L610.0 484.0L611.0 489.0L606.0 492.0L605.0 498.0L607.0 504.0L609.0 509.0L608.0 513.0L603.0 513.0L597.0 510.0L590.0 507.0L582.0 504.0L576.0 501.0L570.0 498.0L564.0 495.0L560.0 493.0Z"/>
</g>
</g>
<g clip-path="url(#c)" fill="none" stroke="#000" stroke-width="2.3" stroke-linejoin="round" stroke-linecap="round">
<path d="M249.0 52.0 255.0 55.0 262.0 58.0 268.0 60.0 274.0 61.5 280.0 59.5 286.0 56.5 293.0 53.5 296.0 52.0"/>
<path d="M270.8 52.0 270.8 60.8"/>
<path d="M349.0 52.0 353.0 54.8 359.0 56.2 364.5 55.2 369.0 52.5"/>
<path d="M476.8 51.8 477.4 53.0 480.5 56.1 483.5 59.8 488.5 61.0 490.9 63.5 494.6 61.6 499.5 60.4 502.6 57.9 505.1 56.1 508.2 57.3 511.8 58.5 516.8 57.9 520.5 57.3 522.3 54.8 523.2 52.6 524.2 53.6 526.0 56.7 530.3 57.9 532.8 58.5 534.0 62.2 537.1 65.3 541.4 66.5 543.8 67.2 544.5 70.8 546.3 73.9 548.8 76.4 549.2 76.9 549.7 82.3 547.7 88.5 546.9 94.6 545.4 99.2 543.1 103.8 540.8 108.5 539.2 111.5 542.3 113.1 544.6 115.4 544.6 118.5 541.5 120.8 540.0 123.1 540.8 125.4 540.0 128.5 538.5 133.1 537.7 136.2 534.6 140.0 530.8 143.1 532.3 146.2 533.8 150.0 533.0 150.0 536.0 156.0 540.0 162.0 546.0 170.0 552.0 177.0 558.0 182.0 564.0 188.0 569.0 193.0 574.0 198.0 579.0 204.0 582.0 209.0 584.0 214.0 584.0 220.0 586.0 226.0 587.0 230.0 589.0 236.0 593.0 242.0 596.0 248.0 598.0 254.0 600.0 260.0 602.0 265.0 603.0 270.0 602.0 275.0 600.0 280.0 600.0 280.0 602.0 286.0 605.0 292.0 609.0 297.0 611.6 301.0 611.6 308.0 611.0 314.0 610.0 320.0 608.0 326.0 604.0 331.0 599.0 333.6 596.0 336.0 595.0 340.0 591.0 345.0 589.0 350.0 587.0 357.0 585.0 364.0 583.0 371.0 581.0 378.0 578.0 384.0 576.6 389.0 576.0 396.0 576.0 402.0 576.6 408.0 577.0 410.0 577.0 410.0 576.6 416.0 578.0 421.0 581.0 426.0 585.0 430.0 588.0 434.0 591.0 440.0 594.0 446.0 597.0 451.0 600.0 457.0 602.0 462.0 605.0 467.0 608.0 472.0 611.0 477.0 615.0 482.0 618.0 486.0 620.0 490.0 620.4 496.0 620.0 502.0 620.0 510.0 620.4 516.0 622.0 521.0 624.0 525.0 627.0 530.0"/>
<path d="M546.5 95.8 573.0 95.4 573.0 116.2 544.6 118.0"/>
<path d="M573.1 95.4 580.8 94.9 588.5 94.9 596.2 94.6 599.2 93.8 601.5 94.6 603.1 96.2 608.5 95.8 614.6 95.4 620.8 95.4 625.4 96.2 628.5 98.5 631.5 99.5"/>
<path d="M601.5 94.6 601.5 96.2 600.8 100.8 601.5 106.9 603.1 110.8 604.6 113.1 608.5 110.8 613.1 109.2 617.7 108.5 620.8 109.2 621.5 113.1 620.0 117.7 617.7 122.3 615.4 126.9 613.8 131.5 614.6 135.4 617.7 136.9 622.3 138.5 624.6 141.5 624.6 145.4 623.8 150.0 623.0 150.0 622.0 158.0 620.0 164.0 618.0 170.0 615.0 168.0 612.0 167.0 608.0 169.0 604.0 170.0 601.0 168.0 599.0 164.0 595.0 161.0 591.0 161.0 591.0 165.0 589.0 168.0 584.0 168.0 578.0 169.0 577.0 172.0 578.0 177.0 582.0 179.0 584.0 183.0 583.6 187.0 582.0 191.0 579.0 189.0 576.0 187.0 573.0 189.0 570.0 192.0 569.0 193.0"/>
<path d="M625.4 52.3 626.2 56.2 627.7 59.2 630.0 61.1"/>
<path d="M583.0 209.0 588.0 206.0 593.0 203.0 596.0 201.6 599.0 204.0 602.0 207.0 606.0 209.0 610.0 206.0 614.0 203.0 618.0 201.0 621.0 204.0 622.0 209.0 624.0 211.0 627.0 209.0 630.0 206.6"/>
<path d="M599.0 204.0 595.0 208.0 592.0 211.0 591.0 216.0 592.0 220.0 590.0 224.0 587.0 225.6"/>
<path d="M587.0 230.0 589.0 229.0 596.0 227.0 602.0 226.0 606.0 225.0 608.0 222.0 610.0 224.0 616.0 225.0 624.0 225.6 630.0 225.6"/>
<path d="M576.4 405.0 582.0 405.6 588.0 405.0 594.0 403.0 600.0 402.0 604.0 403.0 608.0 405.6 612.0 407.0 618.0 407.6 624.0 406.0 630.0 405.6"/>
<path d="M620.0 491.0 624.6 491.0 624.6 502.3 619.5 502.3 626.0 502.3"/>
</g>
<ellipse cx="530" cy="74" rx="3.3" ry="5.1" transform="rotate(18 530 74)" fill="none" stroke="#000" stroke-width="2.3"/>
<ellipse cx="496.4" cy="125.8" rx="2.6" ry="3.4" transform="rotate(35 496.4 125.8)" fill="none" stroke="#000" stroke-width="2.3"/>
<rect x="506.2" y="102.4" width="3.6" height="4" fill="#000"/>
<rect x="479.6" y="151.8" width="3" height="3.4" fill="#000"/>
<path d="M161.70 249.20L164.49 254.86L170.74 255.76L166.22 260.17L167.28 266.39L161.70 263.45L156.12 266.39L157.18 260.17L152.66 255.76L158.91 254.86ZM160.50 257.04L157.80 257.43L159.75 259.33L159.29 262.02L161.70 260.75L164.11 262.02L163.65 259.33L165.60 257.43L162.90 257.04L161.70 254.60Z" fill="#000" fill-rule="evenodd" stroke="#000" stroke-width="0.3"/>
<path d="M300.40 377.20L303.19 382.86L309.44 383.76L304.92 388.17L305.98 394.39L300.40 391.45L294.82 394.39L295.88 388.17L291.36 383.76L297.61 382.86ZM299.20 385.04L296.50 385.43L298.45 387.33L297.99 390.02L300.40 388.75L302.81 390.02L302.35 387.33L304.30 385.43L301.60 385.04L300.40 382.60Z" fill="#000" fill-rule="evenodd" stroke="#000" stroke-width="0.3"/>
<path d="M540.5 124.2 544.2 124.8 549.2 127.8 548.8 130.6 544.2 129.7 540.2 126.9Z" fill="#000"/>
<g stroke="#000" fill="none"><path d="M72.0 51 V35 M72.0 530 V546" stroke-width="4.2" stroke-linecap="round"/><path d="M103.9 51 V42 M103.9 530 V539" stroke-width="2"/><path d="M135.9 51 V42 M135.9 530 V539" stroke-width="2"/><path d="M167.8 51 V42 M167.8 530 V539" stroke-width="2"/><path d="M199.8 51 V42 M199.8 530 V539" stroke-width="2"/><path d="M231.7 51 V35 M231.7 530 V546" stroke-width="3.5" stroke-linecap="round"/><path d="M263.7 51 V42 M263.7 530 V539" stroke-width="2"/><path d="M295.6 51 V42 M295.6 530 V539" stroke-width="2"/><path d="M327.5 51 V42 M327.5 530 V539" stroke-width="2"/><path d="M359.5 51 V42 M359.5 530 V539" stroke-width="2"/><path d="M391.4 51 V35 M391.4 530 V546" stroke-width="3.5" stroke-linecap="round"/><path d="M423.4 51 V42 M423.4 530 V539" stroke-width="2"/><path d="M455.3 51 V42 M455.3 530 V539" stroke-width="2"/><path d="M487.3 51 V42 M487.3 530 V539" stroke-width="2"/><path d="M519.2 51 V42 M519.2 530 V539" stroke-width="2"/><path d="M551.1 51 V35 M551.1 530 V546" stroke-width="3.5" stroke-linecap="round"/><path d="M583.1 51 V42 M583.1 530 V539" stroke-width="2"/><path d="M615.0 51 V42 M615.0 530 V539" stroke-width="2"/><path d="M72 514.0 H63 M631 514.0 H640" stroke-width="2"/><path d="M72 482.1 H63 M631 482.1 H640" stroke-width="2"/><path d="M72 450.2 H56 M631 450.2 H647" stroke-width="3.5" stroke-linecap="round"/><path d="M72 418.2 H63 M631 418.2 H640" stroke-width="2"/><path d="M72 386.3 H63 M631 386.3 H640" stroke-width="2"/><path d="M72 354.4 H63 M631 354.4 H640" stroke-width="2"/><path d="M72 322.4 H63 M631 322.4 H640" stroke-width="2"/><path d="M72 290.5 H56 M631 290.5 H647" stroke-width="3.5" stroke-linecap="round"/><path d="M72 258.6 H63 M631 258.6 H640" stroke-width="2"/><path d="M72 226.6 H63 M631 226.6 H640" stroke-width="2"/><path d="M72 194.7 H63 M631 194.7 H640" stroke-width="2"/><path d="M72 162.8 H63 M631 162.8 H640" stroke-width="2"/><path d="M72 130.8 H56 M631 130.8 H647" stroke-width="3.5" stroke-linecap="round"/><path d="M72 98.9 H63 M631 98.9 H640" stroke-width="2"/><path d="M72 67.0 H63 M631 67.0 H640" stroke-width="2"/></g>
<rect x="72" y="51" width="559" height="479" fill="none" stroke="#000" stroke-width="4" stroke-linejoin="round"/>
<rect x="78.30" y="594.5" width="42.00" height="42.7" fill="#ffffff" stroke="#000" stroke-width="2.5"/>
<rect x="120.30" y="594.5" width="42.00" height="42.7" fill="#a8a8ff" stroke="#000" stroke-width="2.5"/>
<rect x="162.30" y="594.5" width="42.00" height="42.7" fill="#5a5aff" stroke="#000" stroke-width="2.5"/>
<rect x="204.30" y="594.5" width="42.00" height="42.7" fill="#0000ff" stroke="#000" stroke-width="2.5"/>
<rect x="246.30" y="594.5" width="42.00" height="42.7" fill="#0032b4" stroke="#000" stroke-width="2.5"/>
<rect x="288.30" y="594.5" width="42.00" height="42.7" fill="#057364" stroke="#000" stroke-width="2.5"/>
<rect x="330.30" y="594.5" width="42.00" height="42.7" fill="#0aaa1e" stroke="#000" stroke-width="2.5"/>
<rect x="372.30" y="594.5" width="42.00" height="42.7" fill="#50c80f" stroke="#000" stroke-width="2.5"/>
<rect x="414.30" y="594.5" width="42.00" height="42.7" fill="#a5e10a" stroke="#000" stroke-width="2.5"/>
<rect x="456.30" y="594.5" width="42.00" height="42.7" fill="#f5fa05" stroke="#000" stroke-width="2.5"/>
<rect x="498.30" y="594.5" width="42.00" height="42.7" fill="#ffb400" stroke="#000" stroke-width="2.5"/>
<rect x="540.30" y="594.5" width="42.00" height="42.7" fill="#ff5f05" stroke="#000" stroke-width="2.5"/>
<rect x="582.30" y="594.5" width="42.00" height="42.7" fill="#ff0a0a" stroke="#000" stroke-width="2.5"/>
<text transform="translate(162.9 667.6) scale(0.95 1)" font-size="23.2" text-anchor="middle" stroke-width="1.15">0.002</text>
<text transform="translate(246.9 667.6) scale(0.95 1)" font-size="23.2" text-anchor="middle" stroke-width="1.15">0.01</text>
<text transform="translate(330.9 667.6) scale(0.95 1)" font-size="23.2" text-anchor="middle" stroke-width="1.15">0.05</text>
<text transform="translate(414.9 667.6) scale(0.95 1)" font-size="23.2" text-anchor="middle" stroke-width="1.15">0.2</text>
<text transform="translate(498.9 667.6) scale(0.95 1)" font-size="23.2" text-anchor="middle" stroke-width="1.15">1</text>
<text transform="translate(582.9 667.6) scale(0.95 1)" font-size="23.2" text-anchor="middle" stroke-width="1.15">5</text>
<text transform="translate(71.1 578.0) scale(0.955 1)" font-size="22.8" text-anchor="middle" stroke-width="1.15">20W</text>
<text transform="translate(230.8 578.0) scale(0.955 1)" font-size="22.8" text-anchor="middle" stroke-width="1.15">10W</text>
<text transform="translate(390.5 578.0) scale(0.955 1)" font-size="22.8" text-anchor="middle" stroke-width="1.15">0</text>
<text transform="translate(550.2 578.0) scale(0.955 1)" font-size="22.8" text-anchor="middle" stroke-width="1.15">10E</text>
<text transform="translate(40.8 138.2) scale(0.93 1)" font-size="22.8" text-anchor="end" stroke-width="1.15">0</text>
<text transform="translate(40.8 297.9) scale(0.93 1)" font-size="22.8" text-anchor="end" stroke-width="1.15">10S</text>
<text transform="translate(40.8 457.6) scale(0.93 1)" font-size="22.8" text-anchor="end" stroke-width="1.15">20S</text>
<text transform="translate(70.3 22.2) scale(0.95 1)" font-size="29" text-anchor="start" stroke-width="1.1">CO col BB 26 Sep</text>
<text transform="translate(75.0 44.0) scale(1.012 1)" font-size="21.8" text-anchor="start" stroke-width="1.1">(1E18*molec/cm2)</text>
<text transform="translate(632.3 22.4) scale(0.95 1)" font-size="29" text-anchor="end" stroke-width="1.1">2018-10-02_03</text>
</svg></body></html>
